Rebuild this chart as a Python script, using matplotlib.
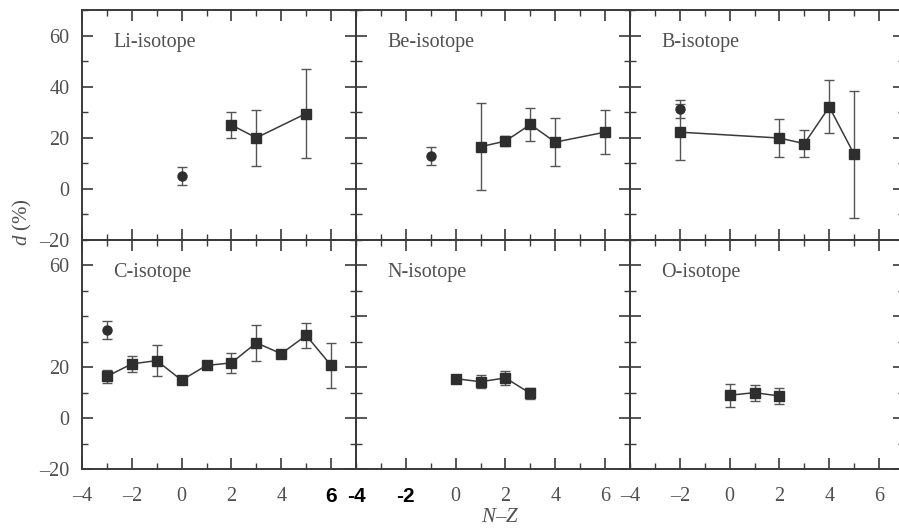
import matplotlib
matplotlib.use("Agg")
import matplotlib.pyplot as plt
from matplotlib.ticker import MultipleLocator, FixedLocator
from matplotlib.font_manager import FontProperties

# ---- data ----
li_sq_x = [2, 3, 5]
li_sq_y = [25.0, 20.0, 29.5]
li_sq_e = [5.0, 11.0, 17.5]
li_ci_x = [0]
li_ci_y = [5.0]
li_ci_e = [3.5]

be_sq_x = [1, 2, 3, 4, 6]
be_sq_y = [16.5, 18.7, 25.2, 18.3, 22.2]
be_sq_e = [17.0, 2.0, 6.6, 9.4, 8.5]
be_ci_x = [-1]
be_ci_y = [13.0]
be_ci_e = [3.5]

b_sq_x = [-2, 2, 3, 4, 5]
b_sq_y = [22.2, 19.9, 17.7, 32.1, 13.5]
b_sq_e = [11.0, 7.4, 5.4, 10.4, 25.0]
b_ci_x = [-2]
b_ci_y = [31.2]
b_ci_e = [3.5]

c_sq_x = [-3, -2, -1, 0, 1, 2, 3, 4, 5, 6]
c_sq_y = [16.4, 21.3, 22.6, 14.9, 20.7, 21.7, 29.6, 25.3, 32.5, 20.7]
c_sq_e = [2.7, 3.0, 6.0, 1.0, 1.0, 3.8, 7.0, 1.0, 5.0, 9.0]
c_ci_x = [-3]
c_ci_y = [34.6]
c_ci_e = [3.6]

n_sq_x = [0, 1, 2, 3]
n_sq_y = [15.5, 14.3, 15.8, 9.7]
n_sq_e = [1.5, 2.5, 2.9, 2.0]

o_sq_x = [0, 1, 2]
o_sq_y = [9.0, 10.0, 8.7]
o_sq_e = [4.6, 3.2, 3.0]

titles = ["Li-isotope", "Be-isotope", "B-isotope", "C-isotope", "N-isotope", "O-isotope"]
x_ticks = [-4, -2, 0, 2, 4, 6]
y_ticks_top = [-20, 0, 20, 40, 60]
y_ticks_bot = [-20, 0, 20, 60]

panels = [
    (li_sq_x, li_sq_y, li_sq_e, li_ci_x, li_ci_y, li_ci_e),
    (be_sq_x, be_sq_y, be_sq_e, be_ci_x, be_ci_y, be_ci_e),
    (b_sq_x, b_sq_y, b_sq_e, b_ci_x, b_ci_y, b_ci_e),
    (c_sq_x, c_sq_y, c_sq_e, c_ci_x, c_ci_y, c_ci_e),
    (n_sq_x, n_sq_y, n_sq_e, [], [], []),
    (o_sq_x, o_sq_y, o_sq_e, [], [], []),
]


def fmt(t):
    return ("\u2013%d" % -t) if t < 0 else str(t)


plt.rcParams['font.family'] = ['Liberation Serif', 'DejaVu Serif']
plt.rcParams['mathtext.fontset'] = 'custom'
plt.rcParams['mathtext.rm'] = 'Liberation Serif'
plt.rcParams['mathtext.it'] = 'Liberation Serif:italic'
LINE = "#3a3a3a"
TXT = "#505050"
MK = "#2e2e2e"

W, H = 899, 529
fig = plt.figure(figsize=(W / 100, H / 100), dpi=100)

x0 = 82
pw = 274
tops = [10, 240]
ph = [230, 229]

axes = []
for i, (sx, sy, se, cx, cy, ce) in enumerate(panels):
    r, c = divmod(i, 3)
    left = x0 + c * pw
    top = tops[r]
    ax = fig.add_axes([left / W, 1 - (top + ph[r]) / H, pw / W, ph[r] / H])
    ax.set_xlim(-4, 7)
    ax.set_ylim(-20, 70)
    ax.set_facecolor("none")
    for sp in ax.spines.values():
        sp.set_color(LINE)
        sp.set_linewidth(1.4)
    ax.errorbar(sx, sy, yerr=se, fmt='s-', color=LINE, ecolor="#555555",
                elinewidth=1.0, capsize=3.8, capthick=1.0, lw=1.1,
                markersize=7, markerfacecolor=MK, markeredgecolor=MK, zorder=3)
    if len(cx):
        ax.errorbar(cx, cy, yerr=ce, fmt='o', color=MK, ecolor="#555555",
                    elinewidth=1.0, capsize=3.8, capthick=1.0,
                    markersize=6.5, markerfacecolor=MK, markeredgecolor=MK, zorder=3)
    ax.xaxis.set_major_locator(FixedLocator(x_ticks))
    ax.xaxis.set_minor_locator(MultipleLocator(1))
    ax.yaxis.set_major_locator(MultipleLocator(20))
    ax.yaxis.set_minor_locator(MultipleLocator(10))
    ax.tick_params(which='both', direction='in', top=True, right=True,
                   color=LINE, labelcolor=TXT, labelsize=14.5)
    ax.tick_params(which='major', length=8, width=1.2)
    ax.tick_params(which='minor', length=4.5, width=1.0)
    ax.tick_params(axis='y', which='major', pad=9)
    ax.tick_params(axis='x', which='major', pad=13)
    if r == 0:
        ax.set_xticklabels([])
    elif c == 1:
        ax.set_xticklabels([("-%d" % -t) if t < 0 else str(t) for t in x_ticks])
    else:
        ax.set_xticklabels([fmt(t) for t in x_ticks])
    if c == 0:
        yt = y_ticks_top if r == 0 else y_ticks_bot
        ax.set_yticks(yt)
        ax.set_yticklabels([fmt(t) for t in yt])
        ax.yaxis.set_minor_locator(MultipleLocator(10))
    else:
        ax.tick_params(labelleft=False)
    ax.text(31 / pw, 1 - 33 / ph[r], titles[i], transform=ax.transAxes,
            fontsize=14.5, color=TXT, va='center', ha='left')
    axes.append(ax)

# pasted bold labels in the reference
bold_fp = FontProperties(family='Liberation Sans', weight='bold', size=15)
for lab in axes[3].get_xticklabels():
    if lab.get_text() == "6":
        lab.set_fontproperties(bold_fp)
        lab.set_color('black')
for lab in axes[4].get_xticklabels():
    if lab.get_text() in ("-4", "-2"):
        lab.set_fontproperties(bold_fp)
        lab.set_color('black')

fig.text(22 / W, 1 - 222 / H, r"$d$ (%)", rotation=90, fontsize=15,
         color=TXT, ha='center', va='center')
fig.text(500 / W, 1 - 518 / H, r"$N$" + "\u2013" + r"$Z$", fontsize=15,
         color=TXT, ha='center', va='center')

fig.savefig("out.png", dpi=100)
